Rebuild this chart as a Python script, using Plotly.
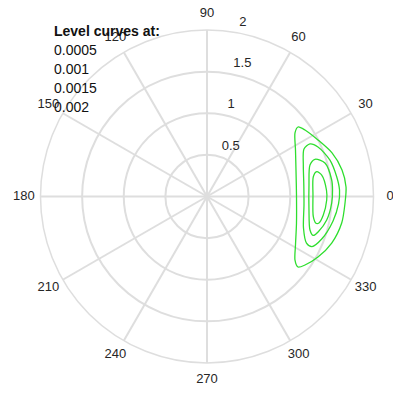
import numpy as np
import plotly.graph_objects as go

# Contour levels
levels = ["0.0005", "0.001", "0.0015", "0.002"]

# Contour curves (cartesian components in radial units)
c1_x = [1.093, 1.057, 1.063, 1.069, 1.075, 1.075, 1.063, 1.057, 1.093, 1.177, 1.333, 1.498, 1.618, 1.658, 1.670, 1.622, 1.502, 1.333, 1.177]
c1_y = [0.835, 0.763, 0.559, 0.318, 0.018, -0.318, -0.583, -0.763, -0.847, -0.823, -0.727, -0.559, -0.318, -0.078, 0.114, 0.318, 0.523, 0.679, 0.799]

c2_x = [1.237, 1.165, 1.157, 1.163, 1.165, 1.159, 1.195, 1.261, 1.378, 1.514, 1.580, 1.592, 1.558, 1.477, 1.333]
c2_y = [0.631, 0.571, 0.378, 0.138, -0.102, -0.378, -0.559, -0.601, -0.511, -0.294, -0.090, 0.078, 0.238, 0.438, 0.595]

c3_x = [1.297, 1.237, 1.225, 1.225, 1.237, 1.277, 1.337, 1.438, 1.498, 1.508, 1.498, 1.417]
c3_y = [0.447, 0.378, 0.138, -0.162, -0.402, -0.468, -0.423, -0.282, -0.078, 0.078, 0.198, 0.402]

c4_x = [1.318, 1.277, 1.273, 1.277, 1.309, 1.345, 1.397, 1.438, 1.435, 1.378]
c4_y = [0.298, 0.238, 0.018, -0.243, -0.322, -0.318, -0.222, -0.042, 0.078, 0.258]

curves = [(c1_x, c1_y), (c2_x, c2_y), (c3_x, c3_y), (c4_x, c4_y)]

radial_ticks = [0.5, 1, 1.5, 2]
radial_labels = ["0.5", "1", "1.5", "2"]
angle_ticks = [0, 30, 60, 90, 120, 150, 180, 210, 240, 270, 300, 330]
angle_labels = [str(a) for a in angle_ticks]

FONT = "Liberation Sans, Arial, sans-serif"
TXT = "#262626"
GRID = "#dedede"
RMAX = 2
RLAB = 2.22  # range of the overlay used for labels

W, H = 393, 396

fig = go.Figure()

for (cx, cy), lev in zip(curves, levels):
    x = np.array(cx + [cx[0]])
    y = np.array(cy + [cy[0]])
    r = np.hypot(x, y)
    th = np.degrees(np.arctan2(y, x))
    fig.add_trace(go.Scatterpolar(
        r=r, theta=th, mode="lines",
        line=dict(color="#2ede2e", width=1.3, shape="spline", smoothing=0.8),
        name=lev, showlegend=False, hoverinfo="skip", subplot="polar",
    ))

# radial tick labels (placed near 82 degrees like the reference)
lab_ang = np.radians(82)
lx = np.array(radial_ticks) * np.cos(lab_ang) + 0.108
ly = np.array(radial_ticks) * np.sin(lab_ang) + 0.03
fig.add_trace(go.Scatterpolar(
    r=np.hypot(lx, ly), theta=np.degrees(np.arctan2(ly, lx)), mode="text",
    text=radial_labels, textposition="top right", cliponaxis=False,
    textfont=dict(family=FONT, size=13, color=TXT),
    showlegend=False, hoverinfo="skip", subplot="polar2",
))

# angular labels centred at 1.1 * rmax
fig.add_trace(go.Scatterpolar(
    r=[1.1 * RMAX] * len(angle_ticks), theta=angle_ticks, mode="text",
    text=angle_labels, textposition="middle center", cliponaxis=False,
    textfont=dict(family=FONT, size=13, color=TXT),
    showlegend=False, hoverinfo="skip", subplot="polar2",
))

cx0, cy0, R = 207, 196.5, 166.5
R2 = R * RLAB / RMAX


def dom(rad):
    return dict(x=[max(0, (cx0 - rad) / W), min(1, (cx0 + rad) / W)],
                y=[max(0, (H - (cy0 + rad)) / H), min(1, (H - (cy0 - rad)) / H)])


fig.update_layout(
    width=W, height=H,
    margin=dict(l=0, r=0, t=0, b=0),
    paper_bgcolor="white",
    plot_bgcolor="white",
    showlegend=False,
    polar=dict(
        domain=dom(R),
        bgcolor="white",
        radialaxis=dict(
            range=[0, RMAX], tickvals=radial_ticks, showticklabels=False,
            ticks="", showline=False, gridcolor=GRID, gridwidth=1.5,
        ),
        angularaxis=dict(
            direction="counterclockwise", rotation=0,
            tickmode="array", tickvals=angle_ticks, showticklabels=False,
            ticks="", showline=True, linecolor=GRID, linewidth=1.5,
            gridcolor=GRID, gridwidth=1.5,
        ),
    ),
    polar2=dict(
        domain=dom(R2),
        bgcolor="rgba(0,0,0,0)",
        radialaxis=dict(range=[0, RLAB], visible=False),
        angularaxis=dict(direction="counterclockwise", rotation=0, visible=False),
    ),
    font=dict(family=FONT, size=13, color=TXT),
)

# "Level curves at:" legend text
legend_lines = ["<b>Level curves at:</b>"] + levels
ys = [31, 50, 69, 88, 107.5]
for txt, yy in zip(legend_lines, ys):
    fig.add_annotation(
        x=52 / W, y=1 - yy / H, xref="paper", yref="paper",
        text=txt, showarrow=False, xanchor="left", yanchor="middle",
        font=dict(family=FONT, size=14, color="#111111"),
    )

# remove the browser's default 8px body margin so the figure fills the window
fig.write_html("out.html", config={"displayModeBar": False},
               post_script="document.body.style.margin='0px';")
